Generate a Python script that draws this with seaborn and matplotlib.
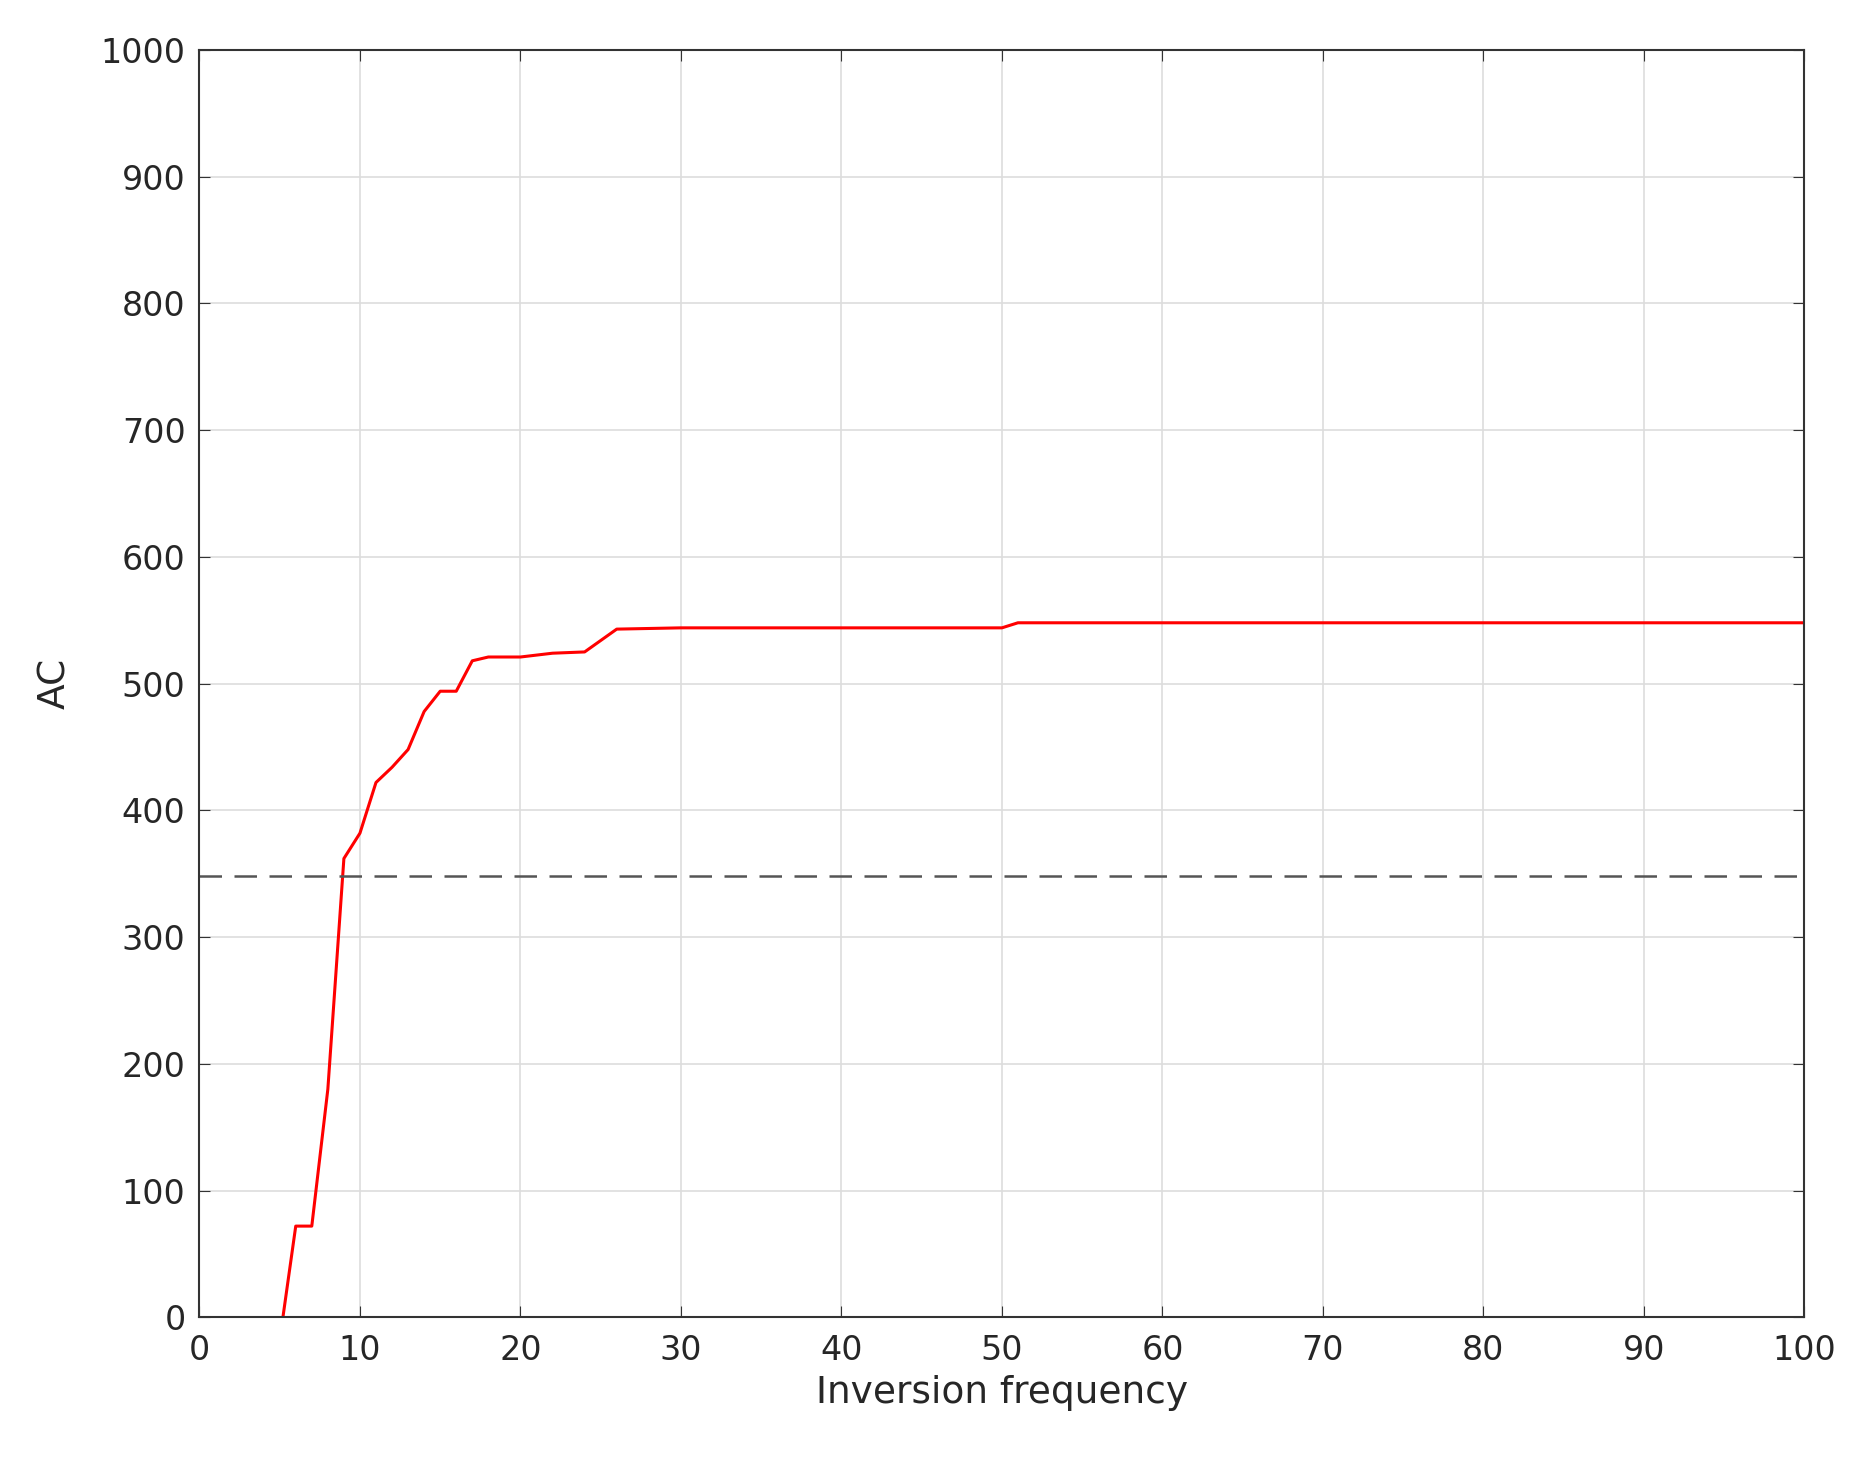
import matplotlib
matplotlib.use("Agg")
import matplotlib.pyplot as plt
import seaborn as sns
import pandas as pd

freq = [5.2, 6, 7, 8, 9, 10, 11, 12, 13, 14, 15, 16, 17, 18, 20, 22, 24, 26, 30, 50, 51, 100]
ac = [0, 72, 72, 180, 362, 382, 422, 434, 448, 478, 494, 494, 518, 521, 521, 524, 525, 543, 544, 544, 548, 548]
threshold = 348

sns.set_style("whitegrid")
plt.rcParams['font.family'] = ['DejaVu Sans']

df = pd.DataFrame({'freq': freq, 'ac': ac})
fig = plt.figure(figsize=(18.64, 14.67), dpi=100)
ax = fig.add_axes([0.107, 0.102, 0.861, 0.864])
sns.lineplot(data=df, x='freq', y='ac', color='red', linewidth=2.2, ax=ax)
ax.axhline(threshold, color='#555555', linestyle=(0, (9, 5)), linewidth=1.8)

ax.set_xlim(0, 100)
ax.set_ylim(0, 1000)
ax.set_xticks(range(0, 101, 10))
ax.set_yticks(range(0, 1001, 100))
ax.grid(True, color='#dddddd', linewidth=1.2)
for s in ax.spines.values():
    s.set_color('#333333')
    s.set_linewidth(1.5)
ax.tick_params(labelsize=24, direction='in', length=8, color='#333333',
               top=True, right=True, bottom=True, left=True)
ax.tick_params(axis='x', pad=12)
ax.tick_params(axis='y', pad=10)
ax.set_xlabel('Inversion frequency', fontsize=27, labelpad=6)
ax.set_ylabel('AC', fontsize=27, labelpad=20)
fig.savefig('out.png')
